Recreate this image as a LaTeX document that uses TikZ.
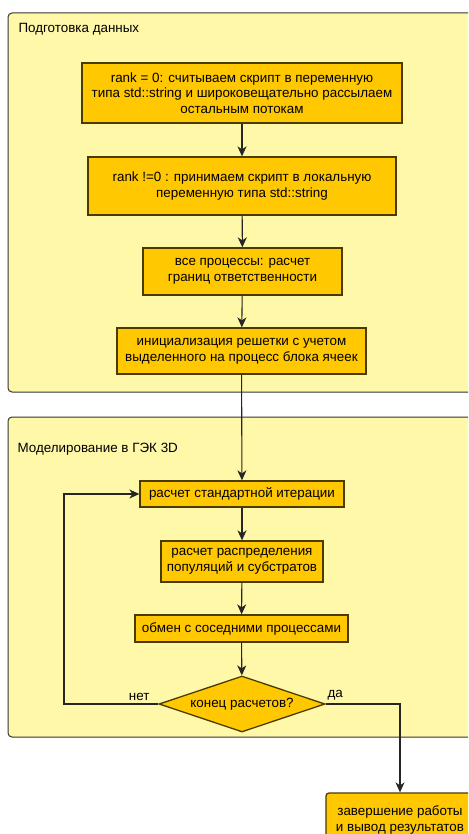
\documentclass[tikz,border=0pt]{standalone}
\usepackage{fontspec}
\setmainfont{Liberation Sans}
\usepackage{tikz}
\usetikzlibrary{arrows.meta}
\usetikzlibrary{shapes.geometric}

\definecolor{groupfill}{HTML}{FFF8A8}
\definecolor{boxfill}{HTML}{FFC800}
\definecolor{boxline}{HTML}{4A3C00}

\begin{document}
\begin{tikzpicture}[x=1pt,y=-1pt]
			\tikzset{group/.style = {draw=black!80,fill=groupfill,line width=1pt,rounded corners=4pt}}
			\tikzset{proc/.style = {shape=rectangle,draw=boxline,fill=boxfill,line width=1.3pt,inner sep=0pt,align=center,font=\fontsize{13.4}{15.7}\selectfont}}
			\tikzset{cond/.style = {shape=diamond,draw=boxline,fill=boxfill,line width=1.3pt,inner sep=0pt,aspect=2.96,minimum width=166pt,minimum height=56pt,font=\fontsize{13.4}{15.7}\selectfont}}
			\tikzset{edge/.style = {-{Stealth[length=10pt,width=9pt,inset=3pt]},line width=1.1pt,black!85}}
			\tikzset{lbl/.style = {font=\fontsize{13.4}{15}\selectfont}}
			\useasboundingbox (0,0) rectangle (468,834);
			\clip (0,0) rectangle (468,834);
			% groups
			\draw[group] (8,13) rectangle (482,392);
			\node[lbl, anchor=west] (title1) at (15,29) {Подготовка данных};
			\draw[group] (8,417) rectangle (482,737);
			\node[lbl, anchor=west] (title2) at (14,449) {Моделирование в ГЭК 3D};
			% vertices
			\node[proc, minimum width=320pt, minimum height=60pt] (read) at (242,93) {rank = 0: считываем скрипт в переменную\\типа std::string и широковещательно рассылаем\\остальным потокам};
			\node[proc, minimum width=308pt, minimum height=58pt] (recv) at (242,186) {rank !=0 : принимаем скрипт в локальную\\переменную типа std::string};
			\node[proc, minimum width=199pt, minimum height=47pt] (bounds) at (242.5,271.5) {все процессы: расчет\\границ ответственности};
			\node[proc, minimum width=249pt, minimum height=46pt] (init) at (241.5,351) {инициализация решетки с учетом\\выделенного на процесс блока ячеек};
			\node[proc, minimum width=204pt, minimum height=26pt] (iter) at (242,494) {расчет стандартной итерации};
			\node[proc, minimum width=162pt, minimum height=41pt] (distr) at (242,561.5) {расчет распределения\\популяций и субстратов};
			\node[proc, minimum width=213pt, minimum height=27pt] (exch) at (241.5,628.5) {обмен с соседними процессами};
			\node[cond] (done) at (242,704) {конец расчетов?};
			\node[proc, rounded corners=3pt, minimum width=148pt, minimum height=54pt] (finish) at (400,820) {завершение работы\\и вывод результатов};
			\coordinate (back) at (64,704);
			\coordinate (turn) at (400,704);
			% edges
			\draw[edge] (read) -- (recv);
			\draw[edge] (recv) -- (bounds);
			\draw[edge] (bounds) -- (init);
			\draw[edge] (init) -- (iter);
			\draw[edge] (iter) -- (distr);
			\draw[edge] (distr) -- (exch);
			\draw[edge] (exch) -- (done);
			\draw[edge] (done.west) -- (back) |- (iter.west);
			\draw[edge] (done.east) -- (turn) -- (finish.north);
			\node[lbl, anchor=south east] (no) at (153,704) {нет};
			\node[lbl, anchor=south west] (yes) at (324,704) {да};
		\end{tikzpicture}
\end{document}
